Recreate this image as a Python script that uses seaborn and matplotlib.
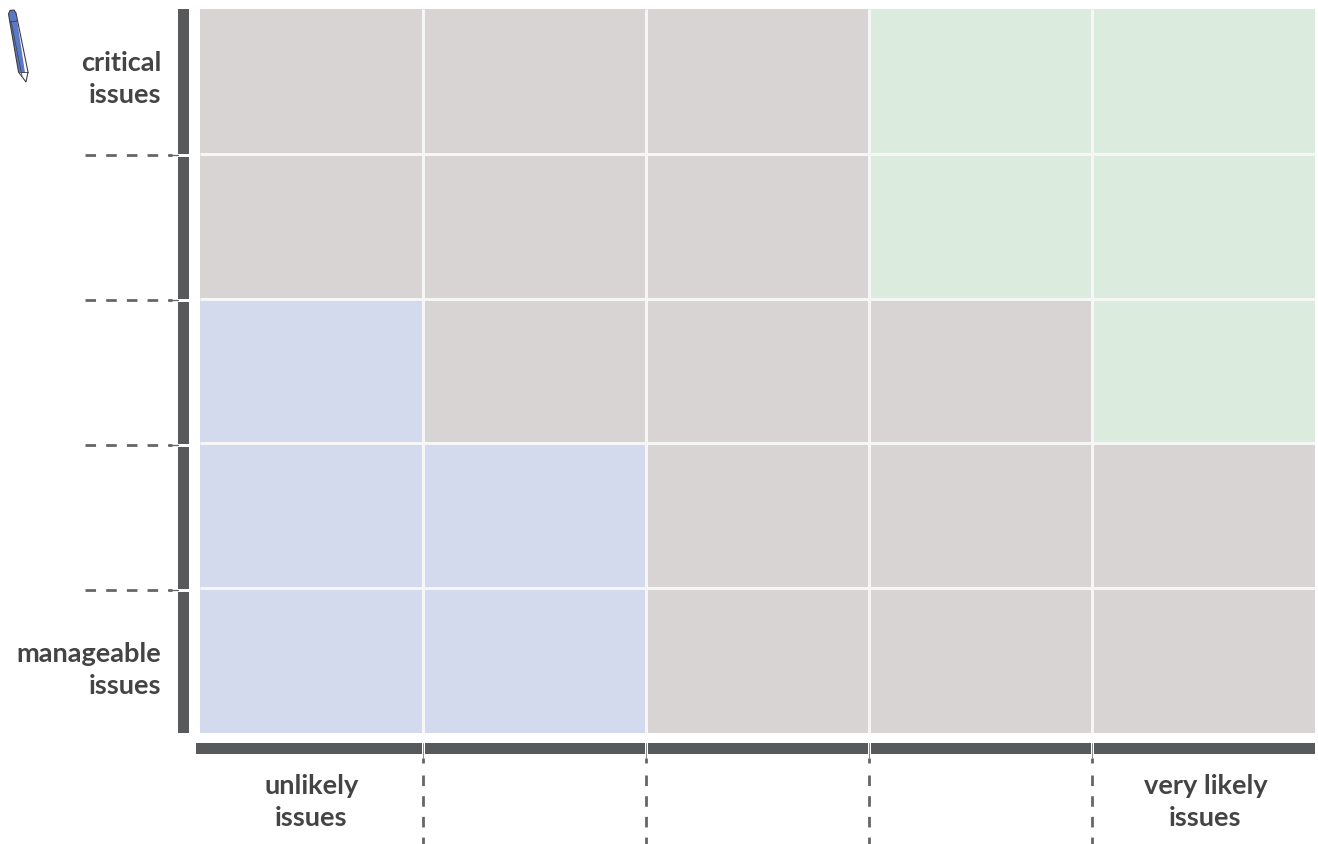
import numpy as np
import pandas as pd
import matplotlib
matplotlib.use("Agg")
import matplotlib.pyplot as plt
import seaborn as sns
from matplotlib.colors import ListedColormap
from matplotlib.patches import Polygon, Rectangle

# 0 = blue, 1 = grey, 2 = green
likelihood = ["1", "2", "3", "4", "5"]
impact = ["5", "4", "3", "2", "1"]
row_5 = [1, 1, 1, 2, 2]
row_4 = [1, 1, 1, 2, 2]
row_3 = [0, 1, 1, 1, 2]
row_2 = [0, 0, 1, 1, 1]
row_1 = [0, 0, 1, 1, 1]
zone_colors = ["#d4daed", "#d8d4d3", "#dbecdf"]

y_labels = ["critical\nissues", "manageable\nissues"]
x_labels = ["unlikely\nissues", "very likely\nissues"]

W, H = 1318, 844
DARK = "#58595b"
TEXT = "#444444"
FS = 19.5
LS = 1.36

sns.set_theme(style="white")
plt.rcParams["font.family"] = ["Lato", "DejaVu Sans"]

df = pd.DataFrame([row_5, row_4, row_3, row_2, row_1], index=impact, columns=likelihood)

fig = plt.figure(figsize=(W / 100, H / 100), dpi=100)
left, right, top, bottom = 199.6, 1315, 9, 733
ax = fig.add_axes([left / W, 1 - bottom / H, (right - left) / W, (bottom - top) / H])
sns.heatmap(df, ax=ax, cmap=ListedColormap(zone_colors), vmin=0, vmax=2, cbar=False,
            xticklabels=False, yticklabels=False)
ax.set_xlabel("")
ax.set_ylabel("")

# white grid between the cells
ax.hlines(range(1, 5), 0, 5, color="#f6f6f6", linewidth=2.2)
ax.vlines(range(1, 5), 0, 5, color="#f6f6f6", linewidth=2.2)

# overlay in pixel coordinates for the axis bars, dashes and pencil
ov = fig.add_axes([0, 0, 1, 1], facecolor="none")
ov.set_xlim(0, W)
ov.set_ylim(H, 0)
ov.axis("off")

gy = [154.5, 299.5, 444.5, 589.5]
gx = [423.5, 646, 869, 1092]

# left bar and bottom bar, broken at the grid lines
ystart = [9] + [g + 2 for g in gy]
yend = [g - 1 for g in gy] + [733]
for a, b in zip(ystart, yend):
    ov.add_patch(Rectangle((178, a), 11, b - a, color=DARK, lw=0))
xstart = [196] + [g + 1.5 for g in gx]
xend = [g - 1.5 for g in gx] + [1315]
for a, b in zip(xstart, xend):
    ov.add_patch(Rectangle((a, 743), b - a, 11, color=DARK, lw=0))

# dashed guides outside the plot
for g in gy:
    ov.plot([85, 172], [g + 0.5, g + 0.5], color="#666666", lw=2, dashes=(3.8, 3.65), dash_capstyle="butt")
    ov.plot([168, 178], [g + 0.5, g + 0.5], color="#666666", lw=0.9)
for g in gx:
    ov.plot([g - 0.5, g - 0.5], [775, 844], color="#666666", lw=2, dashes=(3.8, 3.65), dash_capstyle="butt")
    ov.plot([g - 0.5, g - 0.5], [758, 763], color="#666666", lw=2, solid_capstyle="butt")
    ov.plot([g - 0.5, g - 0.5], [743, 758], color="#777777", lw=0.6)

# axis end labels
ov.text(161, 79, y_labels[0], ha="right", va="center", fontsize=FS, weight="bold", color=TEXT, linespacing=LS)
ov.text(161, 670, y_labels[1], ha="right", va="center", fontsize=FS, weight="bold", color=TEXT, linespacing=LS)
ov.text(311.5, 802, x_labels[0], ha="center", va="center", fontsize=FS, weight="bold", color=TEXT, linespacing=LS)
ov.text(1205.5, 802, x_labels[1], ha="center", va="center", fontsize=FS, weight="bold", color=TEXT, linespacing=LS)

# pencil icon
ov.add_patch(Polygon([(8.5, 14), (10, 10.5), (14, 10), (16, 13), (25, 72.5), (25, 73), (18.5, 72)],
                     closed=True, facecolor="#5b79c4", edgecolor="none"))
ov.add_patch(Polygon([(16, 13), (28, 72), (26, 82), (18.5, 72), (8.5, 14), (10, 10.5), (14, 10)],
                     closed=True, facecolor="none", edgecolor="#3c3c46", lw=0.8))
ov.plot([11, 22], [21, 76], color="#3c3c46", lw=0.5)
ov.plot([9.5, 17], [22, 21], color="#3c3c46", lw=0.6)
ov.plot([18.5, 28], [72, 72], color="#3c3c46", lw=0.6)

fig.savefig("out.png", dpi=100, facecolor="white")
